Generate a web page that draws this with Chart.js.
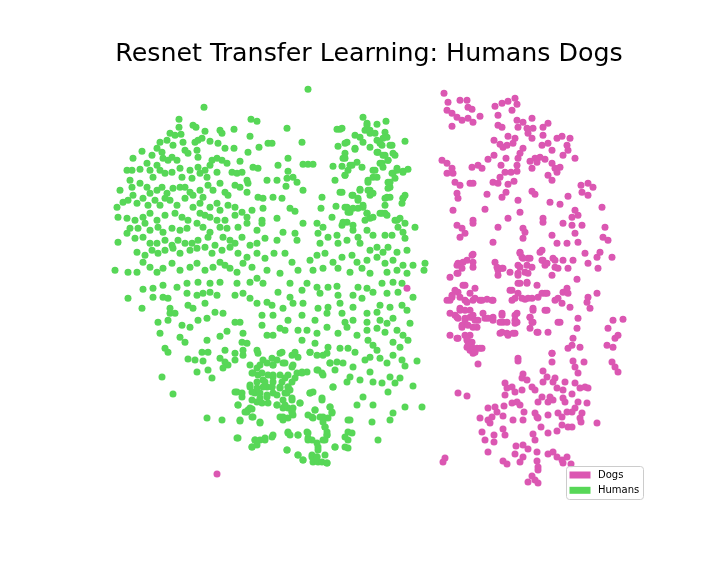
<!DOCTYPE html>
<html>
<head>
<meta charset="utf-8">
<script src="https://cdn.jsdelivr.net/npm/chart.js@4/dist/chart.umd.min.js"></script>
<style>
  body { margin: 0; background: #fff; }
  canvas { display: block; }
</style>
</head>
<body>
<canvas id="chart" width="720" height="576"></canvas>
<script>
// t-SNE embedding of the ResNet features
const chartTitle = 'Resnet Transfer Learning: Humans Dogs';
const seriesNames = ['Dogs', 'Humans'];
const seriesColors = ['#db57b2', '#57d757'];

const humans = [
  [-166,183],[-191,171],[-191,163],[-177,165],[-174,163],[-165,159],[-150,160],[-148,157],[-136,161],[-119,171],[-113,169],[-120,154],[-122,138],[-111,143],[-102,147],
  [-200,157],[-195,155],[-189,156],[-210,148],[-203,150],[-197,145],[-187,148],[-175,148],[-172,150],[-168,152],[-160,149],[-152,147],[-145,142],[-136,142],
  [-228,139],[-213,142],[-208,138],[-218,135],[-207,132],[-202,130],[-198,133],[-193,130],[-185,140],[-182,137],[-173,140],[-172,133],[-158,130],[-153,132],[-148,130],[-143,127],[-130,129],[-117,123],[-112,122],
  [-237,132],[-243,120],[-238,120],[-230,121],[-223,127],[-220,120],[-213,125],[-210,120],[-217,113],[-205,117],[-198,118],[-190,122],[-188,113],[-180,120],[-178,112],[-172,123],[-170,117],[-165,120],[-163,113],[-160,125],[-153,118],[-138,118],[-133,117],[-128,118],[-123,110],[-122,107],[-103,110],
  [-240,110],[-238,103],[-230,107],[-223,103],[-220,97],[-213,100],[-208,103],[-203,97],[-197,102],[-190,103],[-185,103],[-180,98],[-177,95],[-170,100],[-167,93],[-162,105],[-157,100],[-150,107],[-145,98],[-142,95],[-135,105],[-130,103],[-123,98],[-112,93],[-107,92],
  [-250,100],[-253,83],[-247,88],[-242,90],[-237,95],[-233,87],[-227,92],[-222,85],[-215,90],[-210,85],[-205,92],[-200,90],[-193,85],[-185,92],[-177,83],[-170,87],[-160,83],[-153,87],[-150,80],[-142,85],[-135,83],[-128,78],[-118,80],[-107,82],
  [-252,73],[-243,72],[-235,70],[-227,73],[-220,77],[-213,70],[-205,75],[-195,77],[-188,73],[-182,70],[-170,77],[-165,75],[-160,73],[-153,70],[-145,70],[-135,75],[-123,73],[-108,70],
  [-240,62],[-232,62],[-225,67],[-220,60],[-212,63],[-207,58],[-198,62],[-190,60],[-183,62],[-173,67],[-167,63],[-160,58],[-150,63],[-143,62],[-132,63],[-123,67],[-113,60],[-108,67],
  [-252,48],[-243,57],[-235,52],[-227,53],[-220,47],[-213,47],[-205,50],[-198,45],[-192,50],[-185,47],[-178,47],[-172,50],[-162,53],[-155,45],[-147,53],[-140,50],[-135,47],[-128,53],[-120,45],[-113,47],[-105,52],
  [-233,38],[-225,35],[-218,40],[-212,37],[-205,40],[-197,42],[-190,37],[-180,40],[-173,42],[-165,43],[-158,37],[-148,40],[-140,43],[-132,37],[-123,33],[-113,37],[-105,32],
  [-255,20],[-242,18],[-233,18],[-227,28],[-220,23],[-213,18],[-207,22],[-198,27],[-190,20],[-180,23],[-173,27],[-165,20],[-157,23],[-150,28],[-145,25],[-140,22],[-133,18],[-127,27],[-118,23],[-113,12],[-103,20],
  [-62,201],[-83,162],[-98,147],[-68,148],[-33,161],[-30,161],[-7,173],[-3,167],[7,166],[16,169],[-5,160],[0,157],[5,157],[15,158],[-15,155],[-10,153],[-23,148],[-32,144],[-7,148],[0,143],[7,150],[12,145],[17,153],[22,145],[35,149],[8,138],[15,135],[25,135],[-15,142],[-25,137],[-27,132],[-13,128],[-20,125],[-28,124],[-37,124],[-8,123],[3,120],[12,127],[18,130],[27,122],[33,119],[38,121],
  [-82,132],[-92,125],[-67,126],[-62,126],[-57,126],[-82,119],[-77,113],[-83,112],[-73,108],[-93,110],[-84,104],[-67,100],[-97,93],[-88,92],[-35,110],[-25,115],[-30,98],[-2,110],[7,113],[18,108],[23,117],[20,103],[-10,101],[-18,95],[-12,92],[-2,100],[0,95],[17,93],[15,85],[33,92],[32,87],
  [-48,93],[-49,82],[-34,84],[-23,83],[-20,78],[-12,82],[-7,85],[-3,77],[0,72],[10,77],[15,77],[25,70],[28,63],[-80,82],[-75,79],[-93,72],[-67,67],[-53,67],[-47,63],[-38,73],[-28,65],[-23,68],[-17,60],[-12,53],[-3,60],[3,55],[15,55],[22,55],[33,58],[35,52],[-75,57],[-73,50],[-87,58],[-93,50],[-52,57],[-50,47],[-42,53],[-33,55],[-32,47],[-23,50],[-10,47],[0,40],[7,43],[13,38],[18,43],[27,38],[37,40],
  [-96,37],[-85,37],[-60,30],[-53,35],[-45,37],[-37,28],[-28,33],[-18,35],[-13,28],[-3,30],[7,33],[15,27],[23,30],[33,25],[43,25],[55,27],[54,20],[-78,28],[-72,20],[-90,17],[-57,20],[-47,22],[-32,22],[-20,18],[-8,22],[0,17],[17,18],[27,20],[37,17],
  [-3,165],[0,160],[13,152],[10,147],[20,145],[23,137],[7,138],[13,135],[18,130],[10,127],[13,123],[-28,162],[-25,147],[-15,141],[-25,132],[-18,125],[-22,120],[-25,115],[5,120],[3,113],[-2,108],[22,117],[27,120],[33,118],[25,112],[20,108],[18,102],[20,93],[15,92],[-10,100],[0,100],[3,97],[-17,95],[-12,90],[-28,98],
  [-25,83],[-17,82],[-22,78],[-7,83],[-3,77],[-5,70],[3,73],[12,77],[17,75],[30,72],[33,92],[35,95],[27,70],[35,67],[-17,65],[-27,68],[45,63],
  [-242,-8],[-227,1],[-217,2],[-207,5],[-193,3],[-183,7],[-172,8],[-160,7],[-150,8],[-133,7],[-120,8],[-107,7],[-217,-7],[-207,-7],[-202,-8],[-183,-3],[-173,-5],[-167,-3],[-160,-2],[-153,-5],[-135,-5],[-127,-3],[-120,-8],[-113,-13],[-103,-12],[-228,-18],[-200,-18],[-182,-15],[-177,-18],[-165,-13],[-200,-23],[-195,-23],[-212,-32],[-202,-30],[-188,-35],[-180,-37],[-172,-30],[-163,-28],[-155,-22],[-147,-23],[-135,-32],[-130,-32],[-108,-25],[-108,-35],[-103,-45],
  [-210,-43],[-190,-47],[-185,-52],[-163,-50],[-150,-46],[-143,-41],[-127,-43],[-128,-52],[-123,-53],[-205,-58],[-202,-62],[-168,-62],[-162,-62],[-145,-60],[-135,-63],[-127,-60],[-113,-60],[-182,-69],[-175,-70],[-167,-71],[-150,-68],[-145,-72],[-142,-75],[-135,-70],[-120,-75],[-113,-78],[-107,-70],[-173,-82],[-162,-80],[-158,-88],[-147,-78],[-208,-87],[-118,-83],[-112,-85],[-107,-90],[-113,-92],[-103,-97],[-120,-97],[-135,-102],[-128,-107],[-115,-103],[-110,-108],[-103,-107],[-197,-104],[-132,-115],[-120,-118],[-123,-122],[-117,-127],[-163,-128],[-148,-130],[-130,-131],[-110,-133],[-132,-148],[-115,-150],[-105,-150],[-118,-157],
  [-127,-65],[-112,-63],[-98,-68],[-90,-63],[-78,-65],[-72,-67],[-60,-62],[-53,-65],[-43,-63],[-110,-75],[-103,-73],[-97,-75],[-87,-73],[-77,-75],[-40,-73],[-33,-72],[-117,-83],[-108,-83],[-102,-85],[-97,-85],[-90,-85],[-82,-85],[-73,-83],[-68,-83],[-63,-82],[-52,-80],[-48,-83],
  [-105,-92],[-97,-92],[-88,-92],[-78,-92],[-120,-95],[-113,-98],[-107,-97],[-98,-97],[-90,-97],[-82,-97],[-133,-102],[-128,-103],[-118,-102],[-110,-103],[-103,-105],[-97,-103],[-85,-103],[-80,-100],[-60,-103],[-57,-102],[-37,-97],
  [-118,-110],[-113,-112],[-108,-113],[-102,-113],[-93,-115],[-87,-110],[-78,-110],[-70,-113],[-48,-110],[-132,-115],[-122,-120],[-118,-119],[-125,-122],[-87,-118],[-82,-118],[-78,-122],[-77,-118],[-55,-120],[-40,-117],[-38,-122],
  [-118,-127],[-130,-130],[-110,-132],[-90,-127],[-87,-130],[-82,-128],[-77,-125],[-62,-125],[-57,-128],[-50,-127],[-47,-132],[-42,-128],[-22,-130],[-45,-137],[-43,-142],[-82,-142],[-80,-145],[-72,-145],[-63,-142],[-62,-148],[-58,-150],[-47,-150],[-43,-145],[-22,-142],
  [-133,-148],[-115,-150],[-110,-150],[-105,-148],[-98,-147],[-118,-157],[-113,-155],[-83,-160],[-72,-165],[-67,-170],[-58,-165],[-53,-167],[-52,-157],[-45,-165],[-35,-157],[-25,-157],[-22,-150],[-57,-172],[-52,-172],[-43,-173],
  [-80,7],[-92,-2],[-63,7],[-53,3],[-42,3],[-33,4],[-12,3],[-3,2],[12,7],[23,8],[32,7],[-80,-7],[-68,0],[-50,-3],[-32,-5],[-17,-5],[-8,-8],[3,-2],[17,-3],[28,-2],[43,-7],[-98,-15],[-87,-18],[-77,-13],[-67,-13],[-52,-18],[-42,-17],[-30,-13],[-17,-17],[-3,-23],[7,-22],[10,-15],[20,-17],[32,-15],[37,-20],
  [-97,-25],[-82,-30],[-68,-25],[-55,-30],[-43,-23],[-28,-23],[-25,-32],[-17,-30],[-3,-32],[10,-30],[17,-33],[23,-28],[40,-33],[-90,-38],[-85,-40],[-72,-40],[-63,-40],[-53,-43],[-43,-37],[-32,-43],[-23,-37],[-13,-45],[-3,-40],[7,-38],[15,-42],[27,-40],[33,-45],[-97,-45],[-68,-50],[-55,-53],[-42,-57],[-30,-58],[-22,-58],[-15,-62],[-2,-50],[3,-55],[7,-60],[23,-52],[30,-57],[38,-50],
  [-88,-62],[-75,-62],[-60,-62],[-47,-65],[-40,-73],[-27,-73],[-17,-77],[-5,-70],[0,-67],[10,-68],[17,-73],[23,-65],[32,-70],[47,-71],[35,-76],[-93,-70],[-85,-73],[-97,-75],[-78,-77],[-68,-82],[-53,-80],[-47,-85],[-35,-80],[-20,-87],[-10,-90],[0,-82],[20,-87],[30,-88],[-97,-87],[-85,-88],[-75,-88],[-98,-97],[-90,-98],[-82,-97],[-37,-97],[-23,-92],[3,-92],[12,-93],[25,-93],
  [-93,-105],[-83,-103],[-60,-103],[-48,-108],[-7,-107],[18,-102],[43,-96],[-93,-115],[-85,-115],[-78,-108],[-70,-113],[-55,-120],[-40,-117],[-13,-115],[3,-115],[35,-117],[52,-117],[-87,-127],[-78,-122],[-58,-127],[-47,-127],[-38,-123],[-20,-130],[2,-132],[20,-130],[23,-123],
  [-97,-145],[-82,-143],[-72,-145],[-62,-143],[-62,-150],[-45,-137],[-43,-145],[-45,-150],[-25,-147],[-18,-143],[-22,-158],[-35,-157],[-53,-153],[-52,-160],[-83,-160],[-72,-165],[-67,-170],[-58,-167],[-53,-167],[-48,-172],[-43,-173],[8,-150]
];

const dogs = [
  [74,197],[78,188],[90,190],[97,190],[98,183],[102,181],[77,180],[82,177],[87,173],[92,170],[98,172],[103,168],[82,164],[110,174],[125,184],[132,187],[138,189],[145,192],[147,186],[142,180],[128,175],[147,170],[153,168],[162,172],[128,165],[132,163],[148,163],[157,162],[163,162],[173,163],[178,167],[158,157],[162,152],[138,154],[145,152],[124,150],[130,146],[137,145],[143,147],[133,143],
  [173,155],[172,145],[178,147],[187,152],[192,154],[200,152],[197,145],[198,140],[205,132],[193,135],[182,140],[153,142],[150,137],[148,132],[147,125],[160,129],[165,132],[170,133],[175,131],[167,128],[182,127],[185,122],[190,123],[178,115],[182,110],[187,118],[162,122],
  [72,130],[77,127],[82,122],[83,117],[77,117],[85,108],[90,105],[87,97],[88,92],[100,107],[103,107],[102,123],[108,125],[112,122],[118,131],[124,135],[136,132],[131,125],[135,118],[141,118],[147,119],[130,113],[123,108],[128,107],[138,106],[144,109],[136,98],[132,93],[117,96],[148,90],[162,99],[165,96],[180,88],[190,86],[198,94],[211,105],[218,107],[223,103],[212,98],[218,95],[232,83],[83,80],[115,81],[150,78],[205,80],[208,75],[202,73],[173,72],[138,72],[103,70],
  [87,65],[92,62],[95,57],[90,53],[103,67],[128,63],[153,62],[173,68],[193,67],[202,65],[212,65],[235,63],[233,53],[238,50],[205,57],[208,48],[153,52],[155,58],[182,55],[187,47],[197,47],[123,48],[150,38],[152,33],[158,32],[172,40],[172,30],[175,25],[183,32],[185,23],[193,30],[198,22],[203,30],[215,37],[218,27],[227,33],[230,38],[242,33],[228,22],
  [125,28],[128,20],[133,22],[128,15],[140,18],[148,17],[155,18],[148,25],[97,30],[103,28],[102,35],[88,27],[92,22],[87,17],[80,13],[207,11],[197,2],[193,-2],[198,-3],[188,-8],[192,-13],[200,-17],[218,-7],[227,-3],[217,-12],[220,-18],[148,7],[157,8],[167,5],[142,0],[145,-8],[155,-9],[162,-8],[168,-7],[175,-3],[163,-18],[175,-20],
  [82,-7],[80,-10],[88,-2],[95,5],[100,-3],[105,2],[95,-10],[103,-10],[110,-10],[117,-9],[123,-10],[90,-18],[100,-20],[80,-23],[87,-27],[95,-30],[102,-27],[108,-30],[115,-28],[123,-27],[132,-23],[133,-32],[145,-25],[147,-32],[160,-27],[162,-32],[92,-35],[107,-37],[130,-43],[138,-45],[145,-43],[167,-42],[178,-42],[190,-32],[208,-28],[207,-38],
  [103,36],[93,28],[87,25],[103,23],[88,17],[127,23],[132,22],[150,37],[153,32],[160,32],[170,38],[173,30],[177,27],[185,30],[150,23],[157,25],[162,23],[148,15],[158,17],[150,7],[157,7],[188,22],[182,15],[93,5],[85,0],[82,-5],[77,-10],[90,-7],[97,-12],[105,-8],[112,-10],[122,-10],[140,0],[142,-10],[148,-3],[152,-8],[158,-8],[172,-3],[177,-3],[185,-10],
  [85,-25],[90,-20],[95,-20],[88,-28],[95,-28],[100,-27],[105,-30],[103,-25],[113,-23],[118,-28],[123,-30],[132,-25],[130,-32],[137,-32],[147,-23],[145,-30],[163,-20],[160,-27],[163,-32],[177,-20],[188,-32],[92,-37],[98,-35],[103,-37],[132,-42],[137,-43],[143,-43],[145,-33],[160,-38],[168,-42],[87,-48],[95,-45],[100,-45],[97,-50],[102,-52],[97,-57],[100,-60],[107,-58],[112,-58],[103,-63],[182,-63],[148,-68],
  [238,-38],[243,-30],[253,-29],[245,-48],[248,-45],[237,-55],[243,-57],[80,-45],[88,-48],[97,-48],[98,-55],[103,-58],[110,-58],[105,-62],[182,-63],[198,-58],[203,-48],[202,-55],[210,-57],
  [108,-74],[148,-71],[182,-72],[203,-71],[214,-72],[242,-72],[245,-77],[248,-82],[205,-77],[208,-83],[153,-84],[152,-88],[157,-90],[173,-81],[177,-87],[185,-88],[183,-92],[173,-92],[195,-92],[205,-93],[210,-98],[215,-97],[218,-98],[135,-93],[137,-98],[142,-97],[162,-97],[165,-100],[152,-100],[145,-102],[187,-98],[193,-100],[202,-104],
  [135,-105],[147,-112],[150,-115],[172,-107],[180,-107],[183,-110],[193,-108],[168,-112],[178,-112],[195,-112],[208,-112],[217,-113],[205,-118],[202,-122],[212,-123],[118,-118],[125,-117],[127,-122],[134,-116],[142,-113],[154,-122],[165,-123],[168,-128],[178,-125],[188,-123],[192,-127],[197,-122],[210,-128],
  [110,-128],[118,-130],[122,-127],[133,-126],[143,-130],[153,-130],[167,-127],[88,-103],[97,-106],[120,-133],[112,-142],[115,-150],[124,-145],[124,-152],[133,-139],[135,-145],[171,-137],[178,-143],[187,-141],[192,-135],[198,-137],[202,-137],[211,-132],[227,-133],[163,-144],[165,-150],
  [146,-156],[153,-155],[158,-159],[118,-162],[145,-164],[153,-167],[167,-162],[178,-164],[183,-162],[187,-167],[192,-170],[197,-167],[193,-173],[201,-174],[133,-171],[137,-174],[150,-172],[167,-171],[168,-177],[168,-180],[75,-168],[73,-172],[162,-186],[158,-192],[165,-190],[168,-193],
  [37,2],[-153,-184]
];

// axis extent of the embedding (axes are hidden in the original)
const xRange = [-280, 278];
const yRange = [-223, 221];

// legend box drawn inside the plot area, lower right, like the matplotlib one
const boxLegend = {
    id: 'boxLegend',
    afterDraw(chart, args, options) {
        const ctx = chart.ctx;
        const area = chart.chartArea;
        const w = 77, h = 33;
        const left = area.right - 5 - w;
        const top = area.bottom - 14 - h;
        ctx.save();
        ctx.fillStyle = 'rgba(255,255,255,0.8)';
        ctx.strokeStyle = '#cccccc';
        ctx.lineWidth = 1;
        ctx.beginPath();
        ctx.roundRect(left + 0.5, top + 0.5, w, h, 3);
        ctx.fill();
        ctx.stroke();
        ctx.font = '10px "DejaVu Sans"';
        ctx.textBaseline = 'middle';
        ctx.textAlign = 'left';
        chart.data.datasets.forEach((ds, i) => {
            const cy = top + 9 + i * 15.3;
            ctx.fillStyle = ds.backgroundColor;
            ctx.fillRect(left + 3.5, cy - 3.5, 21, 7);
            ctx.fillStyle = '#000';
            ctx.fillText(ds.label, left + 32, cy + 0.5);
        });
        ctx.restore();
    }
};

const toPoints = arr => arr.map(p => ({x: p[0], y: p[1]}));

new Chart(document.getElementById('chart'), {
    type: 'scatter',
    data: {
        datasets: [
            {label: seriesNames[0], data: toPoints(dogs), backgroundColor: seriesColors[0]},
            {label: seriesNames[1], data: toPoints(humans), backgroundColor: seriesColors[1]}
        ]
    },
    options: {
        responsive: false,
        animation: false,
        elements: {point: {radius: 3.5, borderWidth: 0, hoverRadius: 3.5}},
        layout: {padding: {left: 90, right: 72, top: 0, bottom: 63}},
        scales: {
            x: {type: 'linear', display: false, min: xRange[0], max: xRange[1]},
            y: {type: 'linear', display: false, min: yRange[0], max: yRange[1]}
        },
        plugins: {
            legend: {display: false},
            tooltip: {enabled: false},
            title: {
                display: true,
                text: chartTitle,
                color: '#000',
                font: {family: '"DejaVu Sans"', size: 25.3, weight: 'normal'},
                padding: {top: 39, bottom: 0}
            }
        }
    },
    plugins: [boxLegend]
});
</script>
</body>
</html>
